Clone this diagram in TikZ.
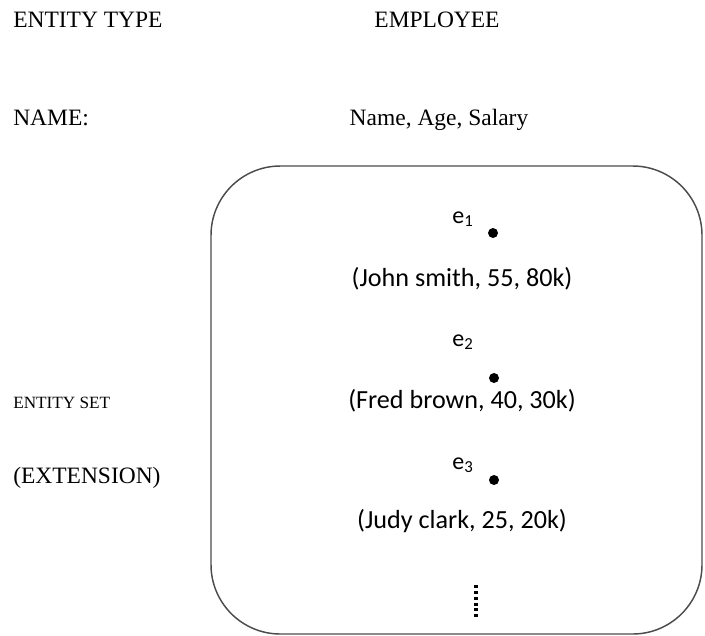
\documentclass[tikz,border=0pt]{standalone}
\usepackage{fontspec}
\setmainfont{Liberation Serif}
\newfontfamily\carlito{Carlito}
\begin{document}
\begin{tikzpicture}[x=0.75pt, y=-0.75pt,
    lbl/.style={inner sep=0pt, font=\fontsize{17.6}{20}\selectfont},
    inst/.style={inner sep=0pt, font=\carlito\fontsize{19.6}{22}\selectfont},
    etich/.style={inner sep=0pt, font=\carlito\fontsize{18}{20}\selectfont},
    elem/.style={circle, fill=black, inner sep=0pt, minimum size=7.5pt}]
    \useasboundingbox (0,0) rectangle (705,635);
    % Intestazioni a sinistra
    \node[lbl, anchor=base west] (tipo) at (13,28) {ENTITY TYPE};
    \node[lbl, anchor=base west] (nome) at (13,125) {NAME:};
    \node[inner sep=0pt, font=\fontsize{12.9}{15}\selectfont, anchor=base west] (insieme) at (13,408) {ENTITY SET};
    \node[lbl, anchor=base west] (estensione) at (13,483) {(EXTENSION)};
    % Tipo di entita
    \node[lbl, anchor=base] (employee) at (437,28) {EMPLOYEE};
    \node[lbl, anchor=base] (attributi) at (439,125) {Name, Age, Salary};
    % Insieme di entita
    \draw[black!70, line width=1.1pt, rounded corners=52pt] (211,166) rectangle (702,634);
    \node[etich, anchor=base] (e1) at (463,223) {e\textsubscript{1}};
    \node[elem] (p1) at (493,233) {};
    \node[inst, anchor=base] (john) at (462,286) {(John smith, 55, 80k)};
    \node[etich, anchor=base] (e2) at (463,346) {e\textsubscript{2}};
    \node[elem] (p2) at (494,378) {};
    \node[inst, anchor=base] (fred) at (462,408) {(Fred brown, 40, 30k)};
    \node[etich, anchor=base] (e3) at (463,469) {e\textsubscript{3}};
    \node[elem] (p3) at (494,480) {};
    \node[inst, anchor=base] (judy) at (462,528) {(Judy clark, 25, 20k)};
    \draw[dash pattern=on 2.2pt off 2.2pt, line width=2.4pt] (476,585) -- (476,617);
\end{tikzpicture}
\end{document}
